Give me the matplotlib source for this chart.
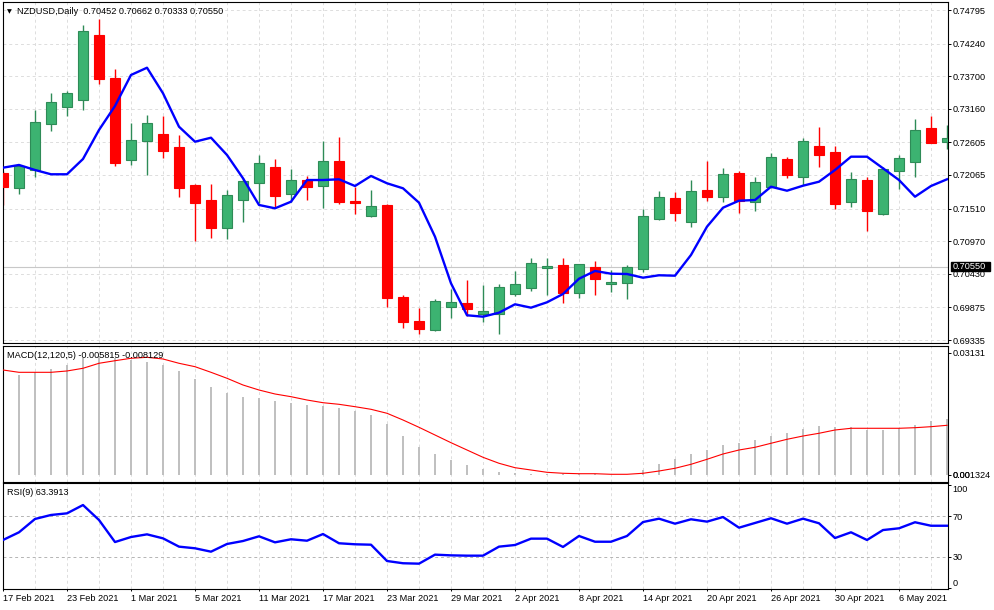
"""MetaTrader-style NZDUSD daily chart: candles + MA, MACD and RSI panes."""

from __future__ import annotations

import matplotlib

matplotlib.use("Agg")

import matplotlib.pyplot as plt
from matplotlib import transforms
from matplotlib.patches import Rectangle


# one entry per trading day, 17 Feb 2021 .. 11 May 2021
opens = [0.72103, 0.71845, 0.72148, 0.72904, 0.73195, 0.73301, 0.74381, 0.73670, 0.72308, 0.72633,
         0.72743, 0.72533, 0.71900, 0.71651, 0.71193, 0.71656, 0.71928, 0.72202, 0.71746, 0.71982,
         0.71883, 0.72297, 0.71635, 0.71392, 0.71569, 0.70047, 0.69650, 0.69506, 0.69876, 0.69947,
         0.69770, 0.69760, 0.70091, 0.70190, 0.70521, 0.70576, 0.70118, 0.70543, 0.70257, 0.70273,
         0.70515, 0.71345, 0.71685, 0.71283, 0.71817, 0.71696, 0.72103, 0.71613, 0.71871, 0.72330,
         0.72027, 0.72545, 0.72446, 0.71613, 0.71982, 0.71415, 0.72136, 0.72285, 0.72843, 0.72616]
highs = [0.72131, 0.72247, 0.73141, 0.73422, 0.73460, 0.74547, 0.74646, 0.73819, 0.72920, 0.73053,
         0.73041, 0.72727, 0.71911, 0.71916, 0.71817, 0.72015, 0.72396, 0.72325, 0.72159, 0.72054,
         0.72628, 0.72699, 0.71871, 0.71817, 0.71585, 0.70075, 0.69870, 0.70014, 0.70179, 0.70328,
         0.70245, 0.70257, 0.70482, 0.70697, 0.70692, 0.70697, 0.70598, 0.70647, 0.70493, 0.70581,
         0.71502, 0.71800, 0.71784, 0.71982, 0.72297, 0.72176, 0.72131, 0.72037, 0.72424, 0.72363,
         0.72677, 0.72864, 0.72550, 0.72120, 0.72037, 0.72202, 0.72391, 0.72997, 0.73046, 0.72887]
lows = [0.71569, 0.71746, 0.72027, 0.72798, 0.73046, 0.73136, 0.73571, 0.72219, 0.72236, 0.72070,
        0.72346, 0.71706, 0.70978, 0.71023, 0.71011, 0.71292, 0.71602, 0.71541, 0.71623, 0.71651,
        0.71524, 0.71580, 0.71415, 0.71375, 0.69886, 0.69529, 0.69429, 0.69489, 0.69704, 0.69732,
        0.69628, 0.69439, 0.70063, 0.70141, 0.70075, 0.69952, 0.70025, 0.70085, 0.70124, 0.70018,
        0.70455, 0.71321, 0.71309, 0.71210, 0.71640, 0.71613, 0.71441, 0.71474, 0.71845, 0.72011,
        0.71900, 0.72202, 0.71498, 0.71541, 0.71139, 0.71403, 0.71828, 0.72037, 0.72595, 0.72500]
closes = [0.71871, 0.72214, 0.72937, 0.73268, 0.73417, 0.74443, 0.73658, 0.72269, 0.72639, 0.72920,
          0.72457, 0.71855, 0.71607, 0.71193, 0.71729, 0.71966, 0.72259, 0.71723, 0.71982, 0.71871,
          0.72292, 0.71623, 0.71610, 0.71552, 0.70035, 0.69638, 0.69522, 0.69975, 0.69959, 0.69843,
          0.69810, 0.70212, 0.70257, 0.70604, 0.70555, 0.70118, 0.70588, 0.70339, 0.70295, 0.70543,
          0.71387, 0.71696, 0.71431, 0.71795, 0.71696, 0.72082, 0.71640, 0.71944, 0.72363, 0.72070,
          0.72623, 0.72401, 0.71590, 0.71994, 0.71474, 0.72159, 0.72341, 0.72810, 0.72600, 0.72672]
ma_line = [0.72186, 0.72231, 0.72148, 0.72077, 0.72077, 0.72330, 0.72810, 0.73207, 0.73720, 0.73840,
           0.73417, 0.72864, 0.72616, 0.72682, 0.72396, 0.72011, 0.71569, 0.71514, 0.71623, 0.71982,
           0.71982, 0.71994, 0.71883, 0.72049, 0.71928, 0.71845, 0.71607, 0.71044, 0.70273, 0.69744,
           0.69721, 0.69787, 0.69926, 0.69870, 0.69959, 0.70096, 0.70349, 0.70477, 0.70432, 0.70427,
           0.70366, 0.70406, 0.70399, 0.70742, 0.71210, 0.71524, 0.71640, 0.71651, 0.71871, 0.71805,
           0.71888, 0.71954, 0.72148, 0.72368, 0.72368, 0.72176, 0.71982, 0.71706, 0.71883, 0.71994]

macd_hist = [0.02578, 0.02560, 0.02629, 0.02714, 0.02816, 0.02988, 0.03054, 0.03003, 0.02944, 0.02893,
             0.02816, 0.02663, 0.02458, 0.02253, 0.02099, 0.01997, 0.01971, 0.01895, 0.01843, 0.01792,
             0.01767, 0.01715, 0.01638, 0.01536, 0.01306, 0.00998, 0.00717, 0.00538, 0.00384, 0.00256,
             0.00161, 0.00077, 0.00044, 0.00038, 0.00026, 0.00018, 0.00013, 0.00026, 0.00008, 0.00008,
             0.00128, 0.00282, 0.00410, 0.00538, 0.00640, 0.00768, 0.00812, 0.00904, 0.00998, 0.01075,
             0.01178, 0.01254, 0.01221, 0.01221, 0.01152, 0.01152, 0.01196, 0.01280, 0.01382, 0.01434]
macd_signal = [0.02688, 0.02629, 0.02629, 0.02629, 0.02663, 0.02732, 0.02860, 0.02926, 0.02988, 0.03013,
               0.02970, 0.02860, 0.02773, 0.02629, 0.02476, 0.02304, 0.02176, 0.02074, 0.02005, 0.01920,
               0.01851, 0.01810, 0.01749, 0.01682, 0.01580, 0.01408, 0.01221, 0.01024, 0.00827, 0.00640,
               0.00453, 0.00300, 0.00187, 0.00128, 0.00069, 0.00044, 0.00033, 0.00033, 0.00018, 0.00018,
               0.00044, 0.00102, 0.00172, 0.00274, 0.00402, 0.00538, 0.00640, 0.00709, 0.00812, 0.00914,
               0.00998, 0.01068, 0.01152, 0.01196, 0.01196, 0.01196, 0.01196, 0.01211, 0.01237, 0.01272]
rsi_line = [46.6, 54.1, 67.1, 71.0, 72.6, 80.7, 66.1, 44.6, 49.5, 52.1,
            48.2, 40.1, 38.5, 35.2, 42.7, 45.6, 50.2, 44.3, 47.3, 45.9,
            52.4, 43.4, 42.4, 42.0, 26.1, 23.9, 23.5, 32.3, 31.6, 31.3,
            31.3, 40.1, 41.7, 47.9, 47.9, 39.8, 50.5, 44.9, 44.9, 50.5,
            64.1, 67.4, 62.5, 66.8, 64.5, 69.0, 58.6, 63.2, 67.8, 62.5,
            67.4, 62.9, 48.5, 54.1, 46.6, 56.3, 58.0, 63.9, 60.5, 60.5]

date_labels = ["17 Feb 2021", "23 Feb 2021", "1 Mar 2021", "5 Mar 2021", "11 Mar 2021",
               "17 Mar 2021", "23 Mar 2021", "29 Mar 2021", "2 Apr 2021", "8 Apr 2021",
               "14 Apr 2021", "20 Apr 2021", "26 Apr 2021", "30 Apr 2021", "6 May 2021"]
price_ticks = [0.74795, 0.74240, 0.73700, 0.73160, 0.72605, 0.72065,
               0.71510, 0.70970, 0.70430, 0.69875, 0.69335]
bid_price = 0.70550
header_ohlc = ["0.70452", "0.70662", "0.70333", "0.70550"]
macd_header = ["-0.005815", "-0.008129"]
macd_max_label = 0.03131
macd_min_label = "0.001324"
rsi_header = "63.3913"
rsi_levels = [70, 30]
rsi_ticks = [100, 70, 30, 0]

# layout (pixels of the 994x610 target)
W, H = 994, 610
BAR_PX = 16.0
FIRST_BAR_PX = 3.0
LEFT_PX, RIGHT_PX = 2.5, 947.5
X_MIN = (LEFT_PX - FIRST_BAR_PX) / BAR_PX
X_MAX = (RIGHT_PX - FIRST_BAR_PX) / BAR_PX
BODY_W = 0.62
FONT_SIZE = 6.6

BULL_FILL = "#3cb371"
BULL_EDGE = "#2e8b57"
BEAR = "#ff0000"
BLUE = "#0000ff"
GRID = "#dddddd"
HIST_GRAY = "#c0c0c0"

plt.rcParams["font.family"] = ["Liberation Sans", "DejaVu Sans"]
plt.rcParams["font.size"] = FONT_SIZE


def px_rect(left: float, top: float, right: float, bottom: float) -> list[float]:
    """Axes rectangle in figure fractions from pixel edges (origin top-left)."""
    return [left / W, 1 - bottom / H, (right - left) / W, (bottom - top) / H]


def style_pane(ax: plt.Axes) -> None:
    """Common MetaTrader look: right price scale, dashed vertical grid."""
    ax.set_xlim(X_MIN, X_MAX)
    ax.yaxis.tick_right()
    ax.tick_params(axis="y", direction="out", length=2, width=0.7, pad=1.6,
                   labelsize=FONT_SIZE, colors="black")
    ax.set_xticks(range(0, len(closes), 2))
    ax.tick_params(axis="x", which="both", length=0, labelbottom=False)
    ax.grid(axis="x", which="both", color=GRID, linestyle=(0, (3, 3)), linewidth=0.7)
    ax.set_axisbelow(True)
    for spine in ax.spines.values():
        spine.set_linewidth(0.8)
        spine.set_color("black")


def draw_candles(ax: plt.Axes) -> None:
    for i, (o, h, l, c) in enumerate(zip(opens, highs, lows, closes)):
        bull = c >= o
        edge = BULL_EDGE if bull else BEAR
        fill = BULL_FILL if bull else BEAR
        ax.vlines(i, l, h, color=edge, linewidth=1.0, zorder=2)
        ax.add_patch(Rectangle((i - BODY_W / 2, min(o, c)), BODY_W, abs(c - o),
                               facecolor=fill, edgecolor=edge, linewidth=0.8, zorder=3))


fig = plt.figure(figsize=(W / 100, H / 100), dpi=100)
fig.patch.set_facecolor("white")

ax_main = fig.add_axes(px_rect(LEFT_PX, 2.3, RIGHT_PX, 343.3))
ax_macd = fig.add_axes(px_rect(LEFT_PX, 345.7, RIGHT_PX, 481.7))
ax_rsi = fig.add_axes(px_rect(LEFT_PX, 483.3, RIGHT_PX, 589.0))
for pane in (ax_main, ax_macd, ax_rsi):
    style_pane(pane)

bars = range(len(closes))

# --- price pane
price_per_px = (price_ticks[0] - price_ticks[-1]) / 330.0
ax_main.set_ylim(price_ticks[-1] - 3.3 * price_per_px, price_ticks[0] + 7.7 * price_per_px)
ax_main.set_yticks(price_ticks, labels=[f"{p:.5f}" for p in price_ticks])
ax_main.grid(axis="y", color=GRID, linestyle=(0, (3, 3)), linewidth=0.7)
ax_main.axhline(bid_price, color="#c8c8c8", linewidth=0.8, zorder=1)
draw_candles(ax_main)
ax_main.plot(bars, ma_line, color=BLUE, linewidth=1.7, zorder=4)

# current bid tag on the price scale
tag_tf = transforms.blended_transform_factory(ax_main.transAxes, ax_main.transData)
tag_w = 39.0 / (RIGHT_PX - LEFT_PX)
ax_main.add_patch(Rectangle((1 + 3.5 / (RIGHT_PX - LEFT_PX), bid_price - 4.2 * price_per_px),
                            tag_w, 8.4 * price_per_px, transform=tag_tf, facecolor="black",
                            edgecolor="black", clip_on=False, zorder=6))
ax_main.text(1 + 5.0 / (RIGHT_PX - LEFT_PX), bid_price, f"{bid_price:.5f}", transform=tag_tf,
             color="white", ha="left", va="center", fontsize=FONT_SIZE, clip_on=False, zorder=7)

fig.text(9.7 / W, 1 - 11.5 / H, "\u25bc", family="DejaVu Sans", fontsize=4.5,
         ha="center", va="center")
fig.text(17.3 / W, 1 - 11.0 / H, "NZDUSD,Daily  " + " ".join(header_ohlc),
         ha="left", va="center")

# --- MACD pane
macd_per_px = macd_max_label / (475.0 - 352.7)
ax_macd.set_ylim(-(481.7 - 475.0) * macd_per_px, (475.0 - 345.7) * macd_per_px)
ax_macd.bar(bars, macd_hist, width=0.14, color=HIST_GRAY, zorder=2)
ax_macd.plot(bars, macd_signal, color=BEAR, linewidth=0.8, zorder=3)
ax_macd.set_yticks([macd_max_label, 0], labels=[f"{macd_max_label:.5f}", macd_min_label])
label_tf = transforms.offset_copy(
    transforms.blended_transform_factory(ax_macd.transAxes, ax_macd.transData),
    fig=fig, x=3.6, y=0, units="points")
ax_macd.text(1, 0, "0.00", transform=label_tf, ha="left", va="center_baseline",
             fontsize=FONT_SIZE, clip_on=False)
fig.text(6.7 / W, 1 - 355.0 / H, "MACD(12,120,5) " + " ".join(macd_header),
         ha="left", va="center")

# --- RSI pane
rsi_per_px = (rsi_levels[0] - rsi_levels[1]) / (557.0 - 516.0)
ax_rsi.set_ylim(30 - (589.0 - 557.0) * rsi_per_px, 70 + (516.0 - 483.3) * rsi_per_px)
for level in rsi_levels:
    ax_rsi.axhline(level, color="#b4b4b4", linestyle=(0, (3, 3)), linewidth=0.7, zorder=1)
ax_rsi.plot(bars, rsi_line, color=BLUE, linewidth=1.7, zorder=3)
ax_rsi.set_yticks(rsi_ticks, labels=[str(t) for t in rsi_ticks])
rsi_labels = ax_rsi.yaxis.get_majorticklabels()
rsi_labels[0].set_va("top")
rsi_labels[-1].set_va("bottom")
fig.text(6.7 / W, 1 - 492.7 / H, "RSI(9) " + rsi_header, ha="left", va="center")

ax_rsi.set_xticks(range(0, len(closes), 4), labels=date_labels)
ax_rsi.set_xticks(range(2, len(closes), 4), minor=True)
ax_rsi.tick_params(axis="x", which="major", length=1.6, width=0.7, pad=2.0,
                   labelbottom=True, labelsize=FONT_SIZE)
ax_rsi.tick_params(axis="x", which="minor", length=0)
for lbl in ax_rsi.get_xticklabels():
    lbl.set_ha("left")

fig.savefig("out.png", dpi=100, facecolor="white")
